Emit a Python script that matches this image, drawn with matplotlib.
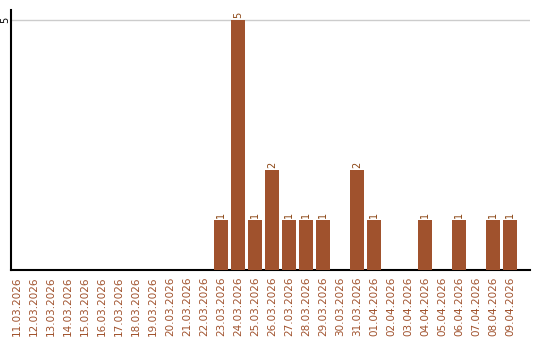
import matplotlib
matplotlib.use("Agg")
import matplotlib.pyplot as plt

dates = ["11.03.2026","12.03.2026","13.03.2026","14.03.2026","15.03.2026","16.03.2026",
         "17.03.2026","18.03.2026","19.03.2026","20.03.2026","21.03.2026","22.03.2026",
         "23.03.2026","24.03.2026","25.03.2026","26.03.2026","27.03.2026","28.03.2026",
         "29.03.2026","30.03.2026","31.03.2026","01.04.2026","02.04.2026","03.04.2026",
         "04.04.2026","05.04.2026","06.04.2026","07.04.2026","08.04.2026","09.04.2026"]
values = [0,0,0,0,0,0,0,0,0,0,0,0,1,5,1,2,1,1,1,0,2,1,0,0,1,0,1,0,1,1]

color = "#A0522D"
W, H = 540, 340
fig = plt.figure(figsize=(W/100, H/100), dpi=100)
ax = fig.add_axes([11/W, 70/H, (530-11)/W, (270-10)/H])

x = list(range(len(dates)))
bars = ax.bar(x, values, width=0.82, color=color, zorder=3)
for xi, v in zip(x, values):
    if v > 0:
        ax.text(xi, v + 0.04, str(v), rotation=90, ha="center", va="bottom",
                fontsize=7, color="#8B4513")

ax.set_xlim(-0.35, 30.18)
ax.set_ylim(0, 5.2)
ax.set_yticks([5])
ax.set_yticklabels(["5"], rotation=90, va="center", ha="center", fontsize=7)
ax.tick_params(axis="y", length=0, pad=4)
ax.set_xticks(x)
ax.set_xticklabels(dates, rotation=90, fontsize=7.5, color=color)
ax.tick_params(axis="x", length=0, pad=5)
ax.grid(axis="y", color="#cccccc", linewidth=1, zorder=0)
for s in ["top", "right"]:
    ax.spines[s].set_visible(False)
ax.spines["left"].set_linewidth(1.5)
ax.spines["bottom"].set_linewidth(1.5)

fig.savefig("out.png", dpi=100)
